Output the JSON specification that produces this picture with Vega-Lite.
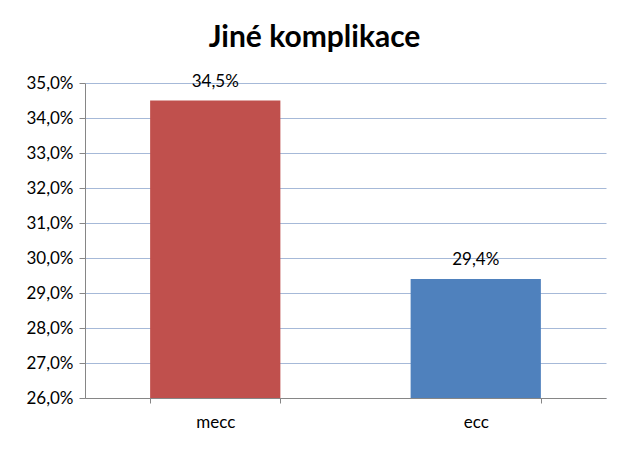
{
  "$schema": "https://vega.github.io/schema/vega-lite/v6.json",
  "width": 521,
  "height": 315,
  "autosize": {"type": "none"},
  "padding": {"left": 85, "top": 83, "right": 24, "bottom": 54},
  "background": "white",
  "config": {
    "locale": {"number": {"decimal": ",", "thousands": " ", "grouping": [3], "currency": ["", " Kč"]}},
    "view": {"stroke": null},
    "font": "Lato"
  },
  "title": {
    "text": "Jiné komplikace",
    "fontSize": 30,
    "fontWeight": "bold",
    "font": "Lato",
    "color": "black",
    "anchor": "middle",
    "dx": -31,
    "offset": 20
  },
  "data": {"values": [
    {"kategorie": "mecc", "podil": 0.345},
    {"kategorie": "ecc", "podil": 0.294}
  ]},
  "encoding": {
    "x": {
      "field": "kategorie", "type": "nominal", "sort": ["mecc", "ecc"],
      "scale": {"paddingInner": 0.5, "paddingOuter": 0.25},
      "axis": {"title": null, "labelAngle": 0, "tickBand": "extent", "domainColor": "#868686", "tickColor": "#868686", "tickSize": 5, "labelFontSize": 17, "labelPadding": 11, "labelColor": "black", "labelFont": "Lato", "grid": false}
    },
    "y": {
      "field": "podil", "type": "quantitative",
      "scale": {"domain": [0.26, 0.35], "nice": false, "zero": false},
      "axis": {"title": null, "values": [0.26, 0.27, 0.28, 0.29, 0.3, 0.31, 0.32, 0.33, 0.34, 0.35], "format": ".1%", "grid": true, "gridColor": "#A6B9D8", "gridWidth": 1, "domainColor": "#868686", "tickColor": "#868686", "tickSize": 6, "labelPadding": 6, "labelFontSize": 17, "labelColor": "black", "labelFont": "Lato"}
    }
  },
  "layer": [
    {
      "mark": {"type": "bar", "clip": true},
      "encoding": {
        "color": {"field": "kategorie", "type": "nominal", "scale": {"domain": ["mecc", "ecc"], "range": ["#C0504D", "#4F81BD"]}, "legend": null}
      }
    },
    {
      "mark": {"type": "text", "baseline": "middle", "dy": -19, "fontSize": 17, "color": "black", "font": "Lato"},
      "encoding": {
        "text": {"field": "podil", "type": "quantitative", "format": ".1%"}
      }
    }
  ]
}
